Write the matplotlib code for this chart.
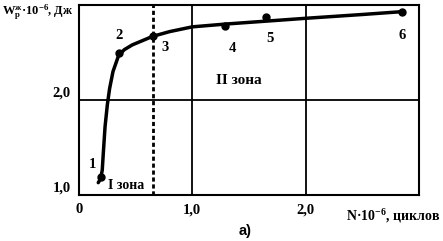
import matplotlib
matplotlib.use('Agg')
import matplotlib.pyplot as plt

plt.rcParams['font.family'] = ['Liberation Serif', 'DejaVu Serif']
plt.rcParams['font.weight'] = 'bold'
plt.rcParams['mathtext.fontset'] = 'custom'
plt.rcParams['mathtext.rm'] = 'Liberation Serif:bold'
plt.rcParams['mathtext.it'] = 'Liberation Serif:bold'
plt.rcParams['mathtext.bf'] = 'Liberation Serif:bold'

# experimental points
pt_labels = ['1', '2', '3', '4', '5', '6']
pt_x = [0.19, 0.35, 0.65, 1.29, 1.65, 2.85]
pt_y = [1.19, 2.50, 2.67, 2.78, 2.87, 2.93]

# fitted curve
curve_x = [0.17, 0.19, 0.205, 0.215, 0.23, 0.25, 0.27, 0.30, 0.35, 0.40,
           0.47, 0.55, 0.65, 0.80, 1.00, 1.30, 1.65, 2.00, 2.50, 2.85]
curve_y = [1.13, 1.17, 1.26, 1.45, 1.72, 1.95, 2.12, 2.30, 2.47, 2.53,
           2.58, 2.62, 2.67, 2.72, 2.77, 2.80, 2.83, 2.86, 2.90, 2.93]

zone_border = 0.65
x_ticks = [0, 1.0, 2.0]
x_ticklabels = ['0', '1,0', '2,0']
y_ticks = [1.0, 2.0]
y_ticklabels = ['1,0', '2,0']

fig = plt.figure(figsize=(4.43, 2.41), dpi=100)
ax = fig.add_axes([79 / 443, 46 / 241, 340 / 443, 190 / 241])
ax.set_xlim(0, 3.0)
ax.set_ylim(1.0, 3.0)

for s in ax.spines.values():
    s.set_linewidth(1.5)

for xv in x_ticks[1:]:
    ax.axvline(xv, color='black', lw=1.3)
ax.axhline(2.0, color='black', lw=1.3)
ax.axvline(zone_border, color='black', lw=2, ls=(0, (1.5, 1)))

ax.plot(curve_x, curve_y, color='black', lw=2.5, solid_capstyle='round',
        solid_joinstyle='round')
ax.plot(pt_x, pt_y, 'o', color='black', ms=5)

offsets = [(-6, 9), (0, 12), (9, -8), (5, -16), (3, -15), (0, -17)]
for lab, xv, yv, (dx, dy) in zip(pt_labels, pt_x, pt_y, offsets):
    ax.annotate(lab, (xv, yv), xytext=(dx, dy), textcoords='offset points',
                ha='center', va='center', fontsize=10.5, fontweight='bold')

ax.set_xticks(x_ticks)
ax.set_xticklabels(x_ticklabels, fontsize=10.5, fontweight='bold')
ax.set_yticks(y_ticks)
ax.set_yticklabels(y_ticklabels, fontsize=10.5, fontweight='bold', va='bottom')
ax.tick_params(length=0, pad=6)

ax.text(0.42, 1.03, 'I зона', fontsize=10, fontweight='bold', ha='center', va='bottom')
ax.text(1.41, 2.14, 'II зона', fontsize=11, fontweight='bold', ha='center', va='bottom')

fig.text(2 / 443, 1 - 12 / 241, r'W$_\mathregular{p}^\mathregular{ж}$·10$^\mathregular{-6}$, Дж',
         fontsize=9, fontweight='bold', ha='left', va='center')
fig.text(440 / 443, 1 - 216 / 241, r'N·10$^\mathregular{-6}$, циклов',
         fontsize=10, fontweight='bold', ha='right', va='center')
fig.text(245 / 443, 1 - 231 / 241, 'а)', fontsize=10.5, fontweight='bold',
         family='Liberation Sans', ha='center', va='center')

fig.savefig('out.png', dpi=100)
